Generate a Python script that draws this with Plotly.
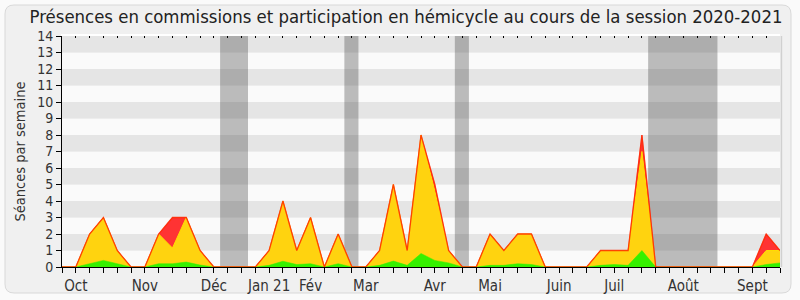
import plotly.graph_objects as go

# ---- data ----
weeks = list(range(53))
total = [0, 0, 2, 3, 1, 0, 0, 2, 3, 3, 1, 0, 0, 0, 0, 1, 4, 1, 3, 0, 2, 0, 0, 1, 5, 1, 8, 5, 1, 0,
         0, 2, 1, 2, 2, 0, 0, 0, 0, 1, 1, 1, 8, 0, 0, 0, 0, 0, 0, 0, 0, 2, 1]
hemicycle = [0, 0, 2, 3, 1, 0, 0, 2, 1.15, 3, 1, 0, 0, 0, 0, 1, 4, 1, 3, 0, 2, 0, 0, 1, 5, 1, 8, 4.6, 1, 0,
             0, 2, 1, 2, 2, 0, 0, 0, 0, 1, 1, 1, 7, 0, 0, 0, 0, 0, 0, 0, 0, 1, 1]
commission = [0, 0, 0.2, 0.4, 0.2, 0, 0, 0.2, 0.2, 0.3, 0.12, 0, 0, 0, 0, 0.1, 0.35, 0.15, 0.2, 0, 0.2, 0, 0, 0.1, 0.36, 0.1, 0.82, 0.4, 0.25, 0,
              0, 0.1, 0.1, 0.2, 0.15, 0, 0, 0, 0, 0.1, 0.15, 0.1, 1.0, 0, 0, 0, 0, 0, 0, 0, 0, 0.15, 0.25]
month_weeks = [1, 6, 11, 15, 18, 22, 27, 31, 36, 40, 45, 50]
month_labels = ["Oct", "Nov", "Déc", "Jan 21", "Fév", "Mar", "Avr", "Mai", "Juin", "Juil", "Août", "Sept"]
vacations = [(12, 13), (21, 21), (29, 29), (43, 47)]
y_max = 14

# ---- layout geometry (pixels) ----
W, H = 800, 300
L, R, T, B = 62, 20, 36, 33
pw, ph = W - L - R, H - T - B


def px2paper(x, y):
    return (x - L) / pw, (H - B - y) / ph


def rounded_rect(x0, y0, x1, y1, r):
    def P(x, y):
        a, b = px2paper(x, y)
        return f"{a:.5f},{b:.5f}"
    return (f"M {P(x0 + r, y0)} L {P(x1 - r, y0)} Q {P(x1, y0)} {P(x1, y0 + r)} "
            f"L {P(x1, y1 - r)} Q {P(x1, y1)} {P(x1 - r, y1)} "
            f"L {P(x0 + r, y1)} Q {P(x0, y1)} {P(x0, y1 - r)} "
            f"L {P(x0, y0 + r)} Q {P(x0, y0)} {P(x0 + r, y0)} Z")


font = "DejaVu Sans Condensed, DejaVu Sans, sans-serif"

fig = go.Figure()
fig.add_trace(go.Scatter(x=weeks, y=total, mode="lines", fill="tozeroy",
                         fillcolor="#ff3333", line=dict(color="#ff3333", width=0.5),
                         hoverinfo="skip", showlegend=False))
fig.add_trace(go.Scatter(x=weeks, y=hemicycle, mode="lines", fill="tozeroy",
                         fillcolor="#ffd30f", line=dict(color="#ffdd00", width=1),
                         hoverinfo="skip", showlegend=False))
fig.add_trace(go.Scatter(x=weeks, y=commission, mode="lines", fill="tozeroy",
                         fillcolor="#36f000", line=dict(color="#36f000", width=0.5),
                         hoverinfo="skip", showlegend=False))
fig.add_trace(go.Scatter(x=weeks, y=total, mode="lines",
                         line=dict(color="rgba(255,40,0,0.85)", width=1.3),
                         hoverinfo="skip", showlegend=False))
fig.add_trace(go.Scatter(x=[], y=[], xaxis="x2", showlegend=False))

shapes = []
shapes.append(dict(type="path", path=rounded_rect(5, 5, 791, 293, 9), xref="paper", yref="paper",
                   fillcolor="#f0f0f0", line=dict(color="#d9d9d9", width=1), layer="below"))
for k in range(y_max):
    shapes.append(dict(type="rect", xref="paper", yref="y", x0=0, x1=1, y0=k, y1=k + 1,
                       fillcolor="#e5e5e5" if k % 2 else "#fafafa", line=dict(width=0), layer="below"))
for a, b in vacations:
    shapes.append(dict(type="rect", xref="x", yref="paper", x0=a - 0.55, x1=b + 0.47, y0=0, y1=1,
                       fillcolor="rgba(60,60,60,0.33)", line=dict(width=0), layer="below"))
shapes.append(dict(type="line", xref="paper", yref="paper", x0=1.002, x1=1.002, y0=0, y1=1,
                   line=dict(color="#d0d0d0", width=1.5), layer="below"))

fig.update_layout(
    width=W, height=H, autosize=False,
    margin=dict(l=L, r=R, t=T, b=B, pad=0),
    paper_bgcolor="#fafafa", plot_bgcolor="rgba(0,0,0,0)",
    shapes=shapes,
    title=dict(text="Présences en commissions et participation en hémicycle au cours de la session 2020-2021",
               x=406 / W, xref="container", xanchor="center",
               y=1 - 17 / H, yref="container", yanchor="middle",
               font=dict(family=font, size=18.4, color="#222222"), automargin=False),
    xaxis=dict(range=[0, 52], tickvals=month_weeks, ticktext=month_labels, automargin=False,
               ticks="outside", ticklen=5, tickcolor="black", tickwidth=1,
               minor=dict(dtick=1, tick0=0, ticks="outside", ticklen=5, tickcolor="black", tickwidth=1),
               showline=True, linecolor="black", linewidth=1, showgrid=False, zeroline=False,
               tickfont=dict(family=font, size=15, color="#333333"), fixedrange=True),
    xaxis2=dict(range=[0, 52], overlaying="x", side="top", showticklabels=False, automargin=False,
                ticks="inside", ticklen=2, dtick=1, tick0=0, tickcolor="black", tickwidth=1,
                showline=True, linecolor="white", linewidth=2, showgrid=False, zeroline=False),
    yaxis=dict(range=[0, y_max], dtick=1, tick0=0, ticks="outside", ticklen=5, tickcolor="black",
               automargin=False,
               showline=True, linecolor="black", linewidth=1, showgrid=False, zeroline=False,
               tickfont=dict(family=font, size=14, color="#333333"),
               title=dict(text="Séances par semaine", standoff=8,
                          font=dict(family=font, size=14.5, color="#333333")), fixedrange=True),
)

fig.write_html("out.html")
